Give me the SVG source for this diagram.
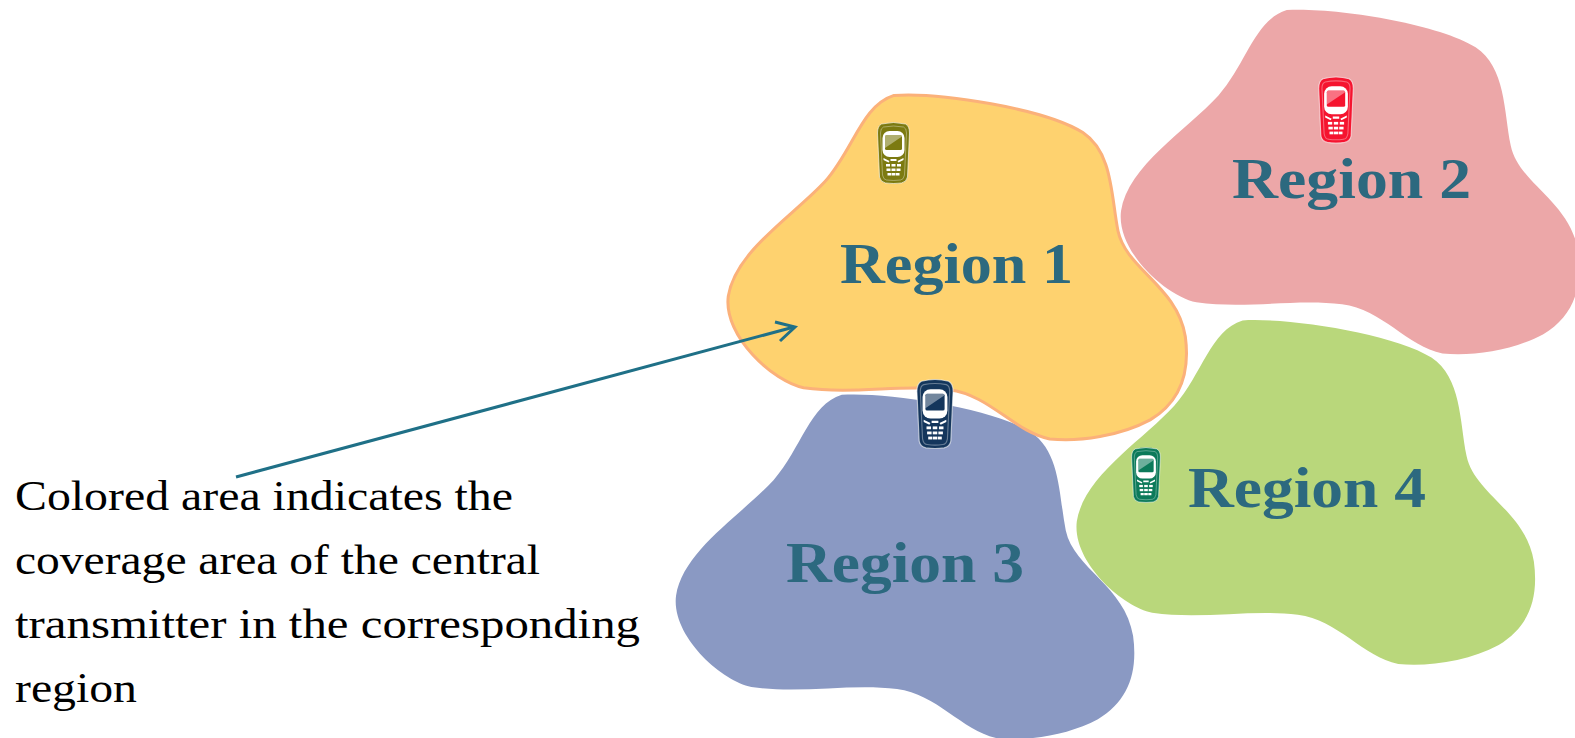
<svg xmlns="http://www.w3.org/2000/svg" width="1575" height="738" viewBox="0 0 1575 738">
<style>
text{font-family:"Liberation Serif","Times New Roman",serif}
.r{font-size:56px;font-weight:bold;fill:#2c697f}
.c{font-size:43px;fill:#000}
</style>
<defs>
<path id="blob" d="M890 95C935 92 1040 108 1078 132C1108 152 1106 195 1113 230C1121 268 1172 285 1180 335C1185 372 1175 400 1145 418C1115 434 1075 440 1045 437C1010 430 985 393 945 388C900 382 850 393 800 386C770 380 720 335 725 295C732 250 790 215 822 180C850 148 858 105 890 95Z"/>
<linearGradient id="glass" x1="0" y1="1" x2="1" y2="0"><stop offset="0" stop-color="currentColor"/><stop offset=".5" stop-color="currentColor"/><stop offset="1" stop-color="#fff" stop-opacity=".75"/></linearGradient>
<g id="phone">
<path d="M-12 -29Q0 -32 12 -29Q16 -27 16 -20L14 24Q13 29 8 30Q0 31 -8 30Q-13 29 -14 24L-16 -20Q-16 -27 -12 -29Z" fill="currentColor" stroke="#fff" stroke-opacity=".6" stroke-width="1"/>
<path d="M-10 -26Q0 -28 10 -26Q13 -25 13 -20L11 22Q10 27 7 27Q0 28 -7 27Q-10 27 -11 22L-13 -20Q-13 -25 -10 -26Z" fill="none" stroke="#fff" stroke-opacity=".35" stroke-width="1"/>
<rect x="-11" y="-22" width="22" height="26" rx="7" fill="#fff"/>
<rect x="-8.500" y="-18" width="17" height="15" rx="1.500" fill="currentColor"/>
<path d="M-8.500 -5V-16.500Q-8.500 -18 -7 -18H7Q8.500 -18 8.500 -16.500Z" fill="#fff" opacity=".4"/>
<g fill="#fff"><rect x="-7.500" y="11" width="4" height="2.500"/><rect x="-2" y="11" width="4" height="2.500"/><rect x="3.500" y="11" width="4" height="2.500"/><rect x="-7" y="15.500" width="4" height="2.500"/><rect x="-2" y="15.500" width="4" height="2.500"/><rect x="3" y="15.500" width="4" height="2.500"/><rect x="-6" y="20" width="3.500" height="2.500"/><rect x="-2" y="20" width="4" height="2.500"/><rect x="2.500" y="20" width="3.500" height="2.500"/><path d="M-10 5L-4 8L-5 9.500L-10 7ZM10 5L4 8L5 9.500L10 7ZM-3 6H3V8H-3Z"/></g>
</g>
</defs>
<g id="region-2"><use href="#blob" fill="#eca7a8" transform="scale(1.0045) translate(391 -85)"/></g>
<g id="region-3"><use href="#blob" fill="#8a99c3" transform="scale(1.0045) translate(-52 298)"/></g>
<g id="region-4"><use href="#blob" fill="#b9d77b" transform="scale(1.0045) translate(347 224)"/></g>
<g id="region-1"><use href="#blob" fill="#fed26f" stroke="#fbb17a" stroke-width="3" transform="scale(1.0045)"/></g>
<g id="label-1"><text class="r" x="840" y="283" textLength="233" lengthAdjust="spacingAndGlyphs">Region 1</text></g>
<g id="label-2"><text class="r" x="1232" y="198" textLength="239" lengthAdjust="spacingAndGlyphs">Region 2</text></g>
<g id="label-3"><text class="r" x="786" y="582" textLength="238" lengthAdjust="spacingAndGlyphs">Region 3</text></g>
<g id="label-4"><text class="r" x="1188" y="507" textLength="238" lengthAdjust="spacingAndGlyphs">Region 4</text></g>
<g id="phone-1" color="#7c7a10"><use href="#phone" transform="translate(893.500 153)"/></g>
<g id="phone-2" color="#f5142f"><use href="#phone" transform="translate(1336 110) scale(1.080)"/></g>
<g id="phone-3" color="#14365c"><use href="#phone" transform="translate(935 414) scale(1.130)"/></g>
<g id="phone-4" color="#0c7a5a"><use href="#phone" transform="translate(1146 475) scale(.9)"/></g>
<g id="connectors" fill="none" stroke="#1f7087" stroke-width="3">
<path d="M236 477L794 327"/>
<path d="M775 322L795 327L780 341"/>
</g>
<g id="caption">
<text class="c" x="15" y="510" textLength="498" lengthAdjust="spacingAndGlyphs">Colored area indicates the</text>
<text class="c" x="15" y="574" textLength="525" lengthAdjust="spacingAndGlyphs">coverage area of the central</text>
<text class="c" x="15" y="638" textLength="625" lengthAdjust="spacingAndGlyphs">transmitter in the corresponding</text>
<text class="c" x="15" y="702" textLength="122" lengthAdjust="spacingAndGlyphs">region</text>
</g>
</svg>
